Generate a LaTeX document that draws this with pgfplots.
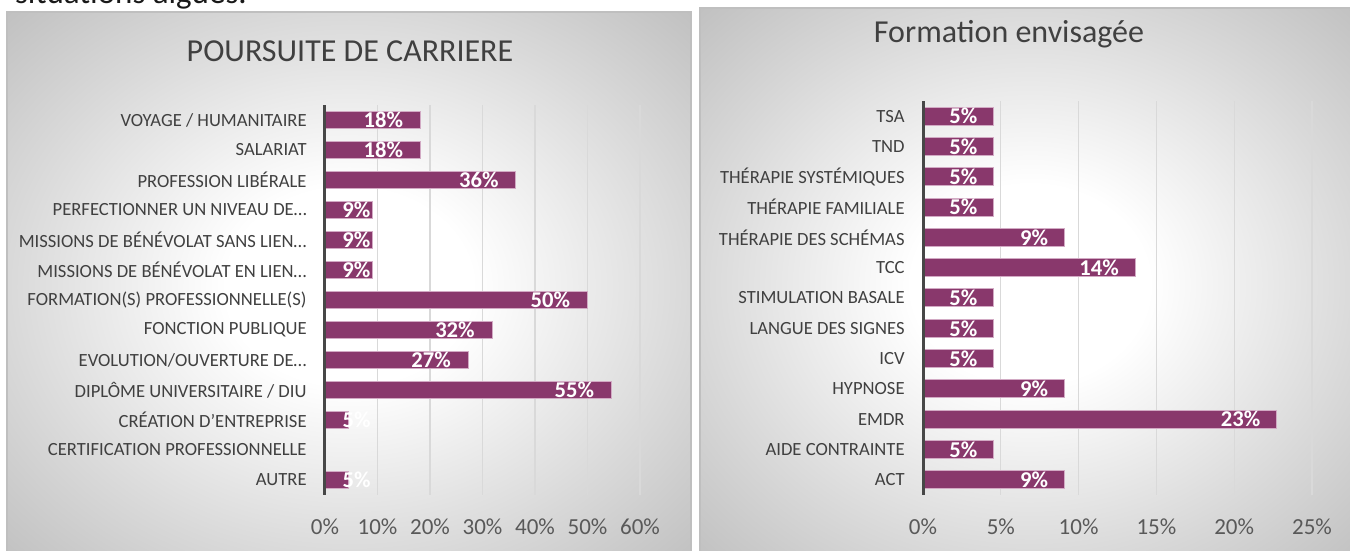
\documentclass[border=0pt]{standalone}
\usepackage{pgfplots}
\pgfplotsset{compat=1.18}
\usepackage{pgfplotstable}
\usepackage{fontspec}
\setmainfont{Carlito}

\definecolor{barc}{RGB}{137,56,108}
\definecolor{barline}{RGB}{210,170,196}
\definecolor{txt}{RGB}{64,64,64}
\definecolor{tickc}{RGB}{89,89,89}
\pgfdeclareradialshading{panelshade}{\pgfpoint{0bp}{0bp}}{color(0bp)=(white);
  color(9bp)=(white); color(25bp)=(black!15); color(36bp)=(black!25); color(50bp)=(black!25)}

% y = row from bottom, v = share in %, lab = printed value, lx = where the label ends
\pgfplotstableread{
y v lab lx
0 4.545 5 8.74
2 4.545 5 8.74
3 54.545 55 51.31
4 27.27 27 24.03
5 31.82 32 28.58
6 50 50 46.76
7 9.09 9 8.71
8 9.09 9 8.71
9 9.09 9 8.71
10 36.36 36 33.12
11 18.18 18 14.94
12 18.18 18 14.94
}\carriere

\pgfplotstableread{
y v lab lx
0 9.09 9 8.06
1 4.545 5 3.52
2 22.73 23 21.70
3 9.09 9 8.06
4 4.545 5 3.52
5 4.545 5 3.52
6 4.545 5 3.52
7 13.64 14 12.61
8 9.09 9 8.06
9 4.545 5 3.52
10 4.545 5 3.52
11 4.545 5 3.52
12 4.545 5 3.52
}\formation

\pgfplotsset{panel/.style={
  scale only axis, anchor=south west, xmin=0,
  ymin=-0.5, ymax=12.5, ytick={0,...,12},
  axis line style={draw=none}, major tick length=0pt,
  xmajorgrids, grid style={draw=black!15, line width=0.6pt},
  /pgf/number format/assume math mode=true,
  xticklabel={\pgfmathprintnumber{\tick}\%},
  xticklabel style={font=\fontsize{11.5}{12}\selectfont, text=tickc, anchor=base, yshift=-20pt},
  yticklabel style={font=\fontsize{9.3}{10}\selectfont, text=txt, inner sep=0pt, xshift=-9pt},
  clip=false,
},
bars/.style={xbar, fill=barc, draw=barline, line width=0.5pt},
labs/.style={draw=none, mark=none, forget plot, point meta=explicit,
  nodes near coords={\pgfmathprintnumber{\pgfplotspointmeta}\%},
  nodes near coords align=center,
  every node near coord/.append style={anchor=east,
    font=\bfseries\fontsize{11.3}{12}\selectfont, text=white, inner sep=0pt}},
}

\begin{document}
\begin{tikzpicture}
\path[use as bounding box, clip] (0,0) rectangle (675pt,275.5pt);

\node[anchor=base west, font=\fontsize{16.5}{18}\selectfont, text=black!90] at (4pt,273.5pt) {situations aiguës.};

\shade[shading=panelshade, draw=black!25, line width=0.6pt]
  (3.5pt,-5pt) rectangle (345.5pt,269.5pt);
\shade[shading=panelshade, draw=black!25, line width=0.6pt]
  (350pt,-5pt) rectangle (680pt,271.5pt);

\node[anchor=base, font=\fontsize{16}{18}\selectfont, text=txt] at (175pt,244.5pt) {POURSUITE DE CARRIERE};
\node[anchor=base, font=\fontsize{16}{18}\selectfont, text=txt] at (504.5pt,254pt) {Formation envisagée};

\begin{axis}[panel, at={(162.5pt,28pt)}, width=157.5pt, height=195pt,
  xmax=60, xtick={0,10,...,60}, bar width=8.5pt,
  yticklabels={AUTRE, CERTIFICATION PROFESSIONNELLE, CRÉATION D'ENTREPRISE,
    DIPLÔME UNIVERSITAIRE / DIU, EVOLUTION/OUVERTURE DE…, FONCTION PUBLIQUE,
    FORMATION(S) PROFESSIONNELLE(S), MISSIONS DE BÉNÉVOLAT EN LIEN…,
    MISSIONS DE BÉNÉVOLAT SANS LIEN…, PERFECTIONNER UN NIVEAU DE…,
    PROFESSION LIBÉRALE, SALARIAT, VOYAGE / HUMANITAIRE}]
\addplot[bars] table[x=v, y=y] {\carriere};
\draw[black!72, line width=1.5pt] (axis cs:0,-0.5) -- (axis cs:0,12.5);
\addplot[labs] table[x=lx, y=y, meta=lab] {\carriere};
\end{axis}

\begin{axis}[panel, at={(461.5pt,28pt)}, width=194.5pt, height=197pt,
  xmax=25, xtick={0,5,...,25}, bar width=9pt,
  yticklabels={ACT, AIDE CONTRAINTE, EMDR, HYPNOSE, ICV, LANGUE DES SIGNES,
    STIMULATION BASALE, TCC, THÉRAPIE DES SCHÉMAS, THÉRAPIE FAMILIALE,
    THÉRAPIE SYSTÉMIQUES, TND, TSA}]
\addplot[bars] table[x=v, y=y] {\formation};
\draw[black!72, line width=1.5pt] (axis cs:0,-0.5) -- (axis cs:0,12.5);
\addplot[labs] table[x=lx, y=y, meta=lab] {\formation};
\end{axis}
\end{tikzpicture}
\end{document}
